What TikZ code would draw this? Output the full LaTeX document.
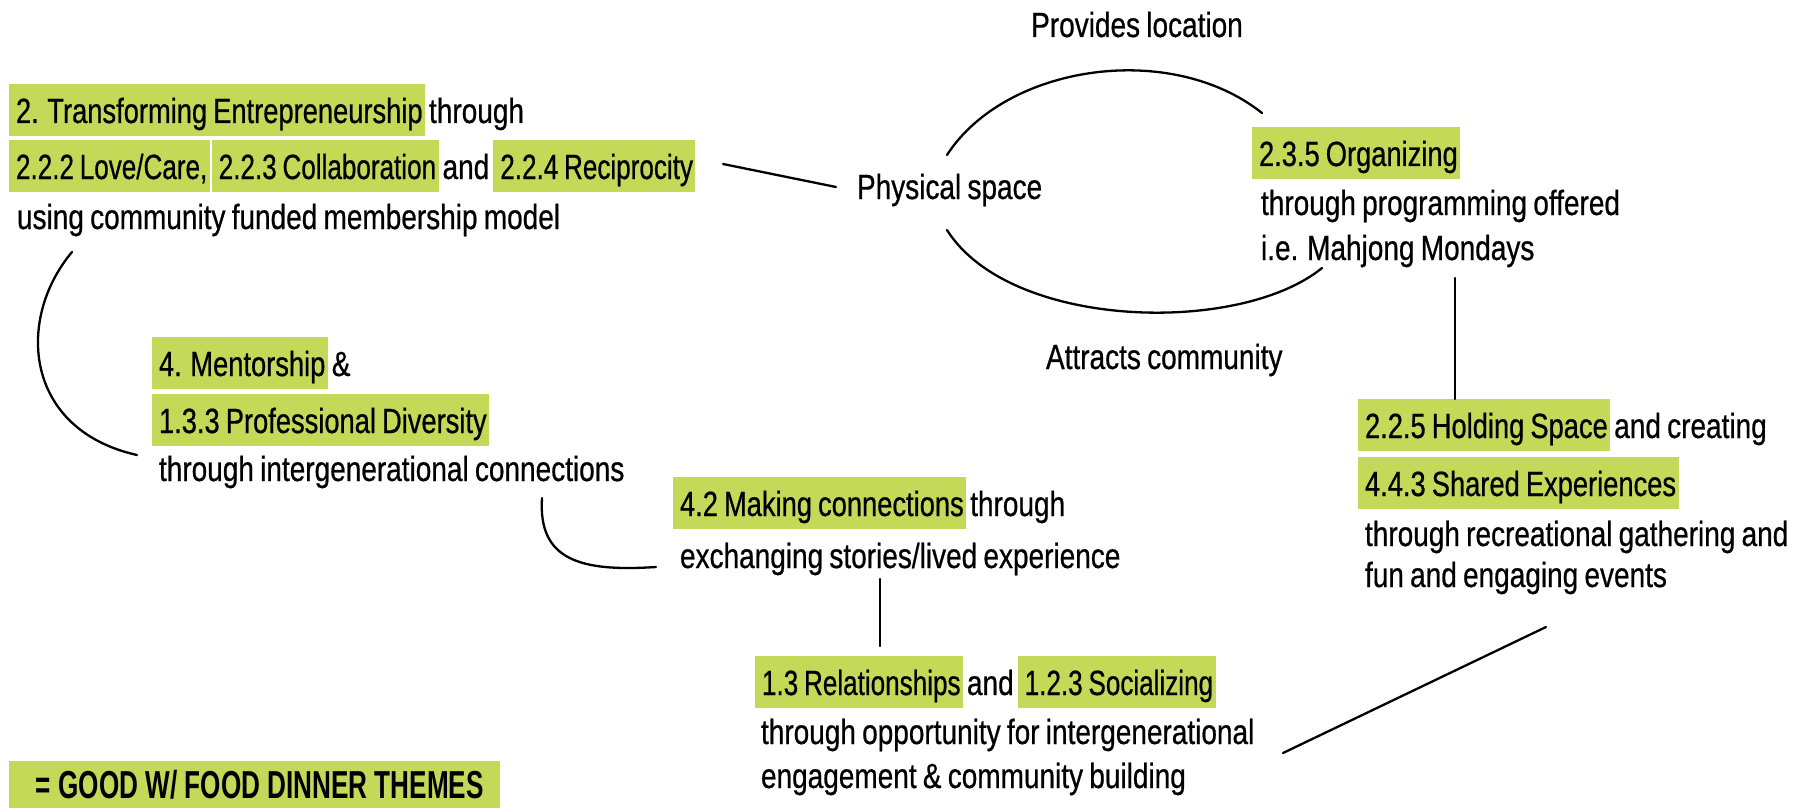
\documentclass[tikz,border=0pt]{standalone}
\usepackage{fontspec}
\setmainfont{Liberation Sans}[FakeStretch=0.80, FakeBold=0.6, WordSpace=0.8]
\newfontfamily\hlfont{Liberation Sans}[FakeStretch=0.78, FakeBold=0.6, WordSpace=0.8]
\newfontfamily\hltfont{Liberation Sans}[FakeStretch=0.745, FakeBold=0.6, WordSpace=0.8]
\newfontfamily\legfont{Liberation Sans}[FakeStretch=0.67]
\newcommand\mysz{\fontsize{17.5pt}{22pt}\selectfont}
\definecolor{hlgreen}{RGB}{196,217,87}
\tikzset{
  hl/.style={fill=hlgreen, anchor=base west, inner xsep=0pt, inner ysep=0pt,
             text height=19.5pt, text depth=6.5pt, outer sep=0pt, font=\hlfont\mysz,
             execute at begin node={\hspace*{3.5pt}},
             execute at end node={\hspace*{1.2pt}}},
  hlt/.style={hl, font=\hltfont\mysz},
  tx/.style={anchor=base west, inner sep=0pt, outer sep=0pt},
  after/.style={anchor=base west, inner xsep=2pt, inner ysep=0pt, outer sep=0pt},
  conn/.style={line width=1.15pt, line cap=round},
}
\begin{document}
\begin{tikzpicture}[x=0.5pt,y=-0.5pt,font=\mysz]
\useasboundingbox (0,0) rectangle (1816,808);

% group A
\node[hl] (a1) at (9,123) {2. Transforming Entrepreneurship};
\node[after] (a1t) at (a1.base east) {through};
\node[hlt] (a2) at (9,179) {2.2.2 Love/Care,};
\node[hlt] (a3) at ([xshift=1pt]a2.base east) {2.2.3 Collaboration};
\node[after] (a3t) at (a3.base east) {and};
\node[hlt] (a4) at (a3t.base east) {2.2.4 Reciprocity};
\node[tx] (a5) at (17,229) {using community funded membership model};

% central labels
\node[tx] (phys) at (857,199) {Physical space};
\node[tx, anchor=base] (prov) at (1137,37) {Provides location};
\node[tx] (attr) at (1046,369) {Attracts community};

% group B
\node[hl] (b1) at (1252,166) {2.3.5 Organizing};
\node[tx] (b2) at (1261,215) {through programming offered};
\node[tx] (b3) at (1261,260) {i.e. Mahjong Mondays};

% group C
\node[hl] (c1) at (1358,438) {2.2.5 Holding Space};
\node[after] (c1t) at (c1.base east) {and creating};
\node[hl] (c2) at (1358,496) {4.4.3 Shared Experiences};
\node[tx] (c3) at (1365,546) {through recreational gathering and};
\node[tx] (c4) at (1365,587) {fun and engaging events};

% group D
\node[hlt] (d1) at (755,695) {1.3 Relationships};
\node[after] (d1t) at (d1.base east) {and};
\node[hlt] (d2) at (d1t.base east) {1.2.3 Socializing};
\node[tx] (d3) at (761,744) {through opportunity for intergenerational};
\node[tx] (d4) at (761,788) {engagement \& community building};

% group E
\node[hl] (e1) at (673,516) {4.2 Making connections};
\node[after] (e1t) at (e1.base east) {through};
\node[tx] (e2) at (680,568) {exchanging stories/lived experience};

% group F
\node[hl] (f1) at (152,376) {4. Mentorship};
\node[after] (f1t) at (f1.base east) {\&};
\node[hl] (f2) at (152,433) {1.3.3 Professional Diversity};
\node[tx] (f3) at (159,481) {through intergenerational connections};

% legend
\node[fill=hlgreen, anchor=north west, minimum width=245.5pt, minimum height=23.5pt,
      inner sep=0pt, font=\legfont\fontsize{19.5pt}{21pt}\selectfont\bfseries] (leg) at (9,761)
      {\hspace{5pt}\raisebox{-2.25pt}{= GOOD W/ FOOD DINNER THEMES}};

% connector end points
\coordinate (pA1) at (723,164);
\coordinate (pA2) at (836,187);
\coordinate (pT1) at (947,155);
\coordinate (pT2) at (1262,113);
\coordinate (pB1) at (947,230);
\coordinate (pB2) at (1322,268);
\coordinate (pL1) at (72,252);
\coordinate (pL2) at (137,455);
\coordinate (pF1) at (542,498);
\coordinate (pF2) at (656,567);
\coordinate (pE1) at (880,579);
\coordinate (pE2) at (880,646);
\coordinate (pC1) at (1455,278);
\coordinate (pC2) at (1455,399);
\coordinate (pD1) at (1546,627);
\coordinate (pD2) at (1283,753);

\draw[conn] (pA1) -- (pA2);
\draw[conn] (pT1) .. controls (1005,65) and (1170,40) .. (pT2);
\draw[conn] (pB1) .. controls (1010,330) and (1240,335) .. (pB2);
\draw[conn] (pL1) .. controls (15,320) and (25,430) .. (pL2);
\draw[conn] (pF1) .. controls (538,560) and (580,572) .. (pF2);
\draw[conn] (pE1) -- (pE2);
\draw[conn] (pC1) -- (pC2);
\draw[conn] (pD1) -- (pD2);
\end{tikzpicture}
\end{document}
